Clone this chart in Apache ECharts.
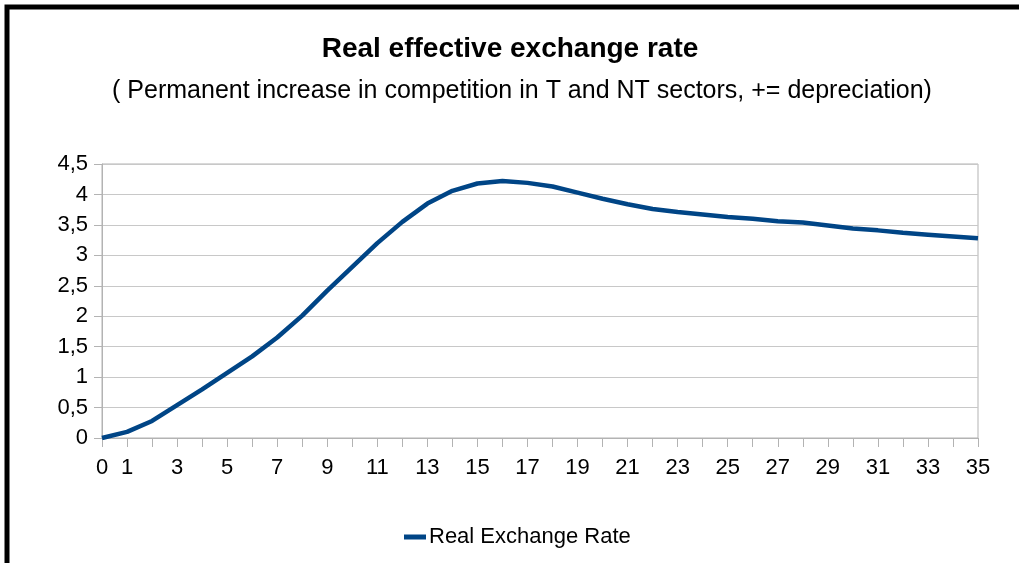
<!DOCTYPE html>
<html>
<head>
<meta charset="utf-8">
<script src="https://cdn.jsdelivr.net/npm/echarts@6/dist/echarts.min.js"></script>
<style>
html,body{margin:0;padding:0;background:#fff;}
#chart{width:1019px;height:563px;}
</style>
</head>
<body>
<div id="chart"></div>
<script>
var periods = ['0','1','2','3','4','5','6','7','8','9','10','11','12','13','14','15','16','17','18','19','20','21','22','23','24','25','26','27','28','29','30','31','32','33','34','35'];
var realExchangeRate = [0, 0.10, 0.28, 0.54, 0.80, 1.07, 1.34, 1.65, 2.01, 2.42, 2.81, 3.20, 3.55, 3.85, 4.06, 4.18, 4.22, 4.19, 4.13, 4.03, 3.93, 3.84, 3.76, 3.71, 3.67, 3.63, 3.60, 3.56, 3.54, 3.49, 3.44, 3.41, 3.37, 3.34, 3.31, 3.28];
var titleText = 'Real effective exchange rate';
var subtitleText = '( Permanent increase in competition in T and NT sectors, += depreciation)';
var seriesName = 'Real Exchange Rate';

var font = '"Liberation Sans", Arial, sans-serif';
var chart = echarts.init(document.getElementById('chart'), null, {renderer: 'canvas'});
chart.setOption({
  backgroundColor: '#ffffff',
  animation: false,
  title: [
    {text: titleText, left: 510, top: 35, textAlign: 'center', padding: 0,
     textStyle: {fontFamily: font, fontSize: 28, fontWeight: 'bold', color: '#000'}},
    {text: subtitleText, left: 522, top: 79, textAlign: 'center', padding: 0,
     textStyle: {fontFamily: font, fontSize: 25, fontWeight: 'normal', color: '#000'}}
  ],
  legend: {
    left: 404, top: 526, padding: 0,
    icon: 'rect', itemWidth: 22, itemHeight: 5, itemGap: 10,
    textStyle: {fontFamily: font, fontSize: 22, color: '#000', padding: [0,0,0,-2]},
    data: [seriesName]
  },
  grid: {left: 102, right: 41, top: 164, bottom: 125, show: true, borderColor: '#b3b3b3', borderWidth: 1, backgroundColor: 'transparent'},
  xAxis: {
    type: 'category', data: periods, boundaryGap: false,
    axisLine: {lineStyle: {color: '#b3b3b3', width: 1}},
    axisTick: {show: true, interval: 0, length: 9, lineStyle: {color: '#b3b3b3'}},
    axisLabel: {
      interval: function (i) { return i === 0 || i % 2 === 1; },
      margin: 19, fontFamily: font, fontSize: 22, color: '#000'
    },
    splitLine: {show: false}
  },
  yAxis: {
    type: 'value', min: 0, max: 4.5, interval: 0.5,
    axisLine: {show: true, lineStyle: {color: '#b3b3b3', width: 1}},
    axisTick: {show: true, length: 8, lineStyle: {color: '#b3b3b3'}},
    axisLabel: {
      margin: 14, fontFamily: font, fontSize: 22, color: '#000',
      formatter: function (v) { return String(v).replace('.', ','); }
    },
    splitLine: {show: true, lineStyle: {color: '#c8c8c8', width: 1}}
  },
  series: [{
    name: seriesName, type: 'line', data: realExchangeRate,
    smooth: false, showSymbol: false, symbol: 'none',
    lineStyle: {color: '#004586', width: 4.5},
    itemStyle: {color: '#004586'}
  }],
  graphic: [{
    type: 'rect', silent: true, z: 100,
    shape: {x: 7, y: 7, width: 1200, height: 800},
    style: {fill: 'none', stroke: '#000', lineWidth: 5}
  }]
});
</script>
</body>
</html>
